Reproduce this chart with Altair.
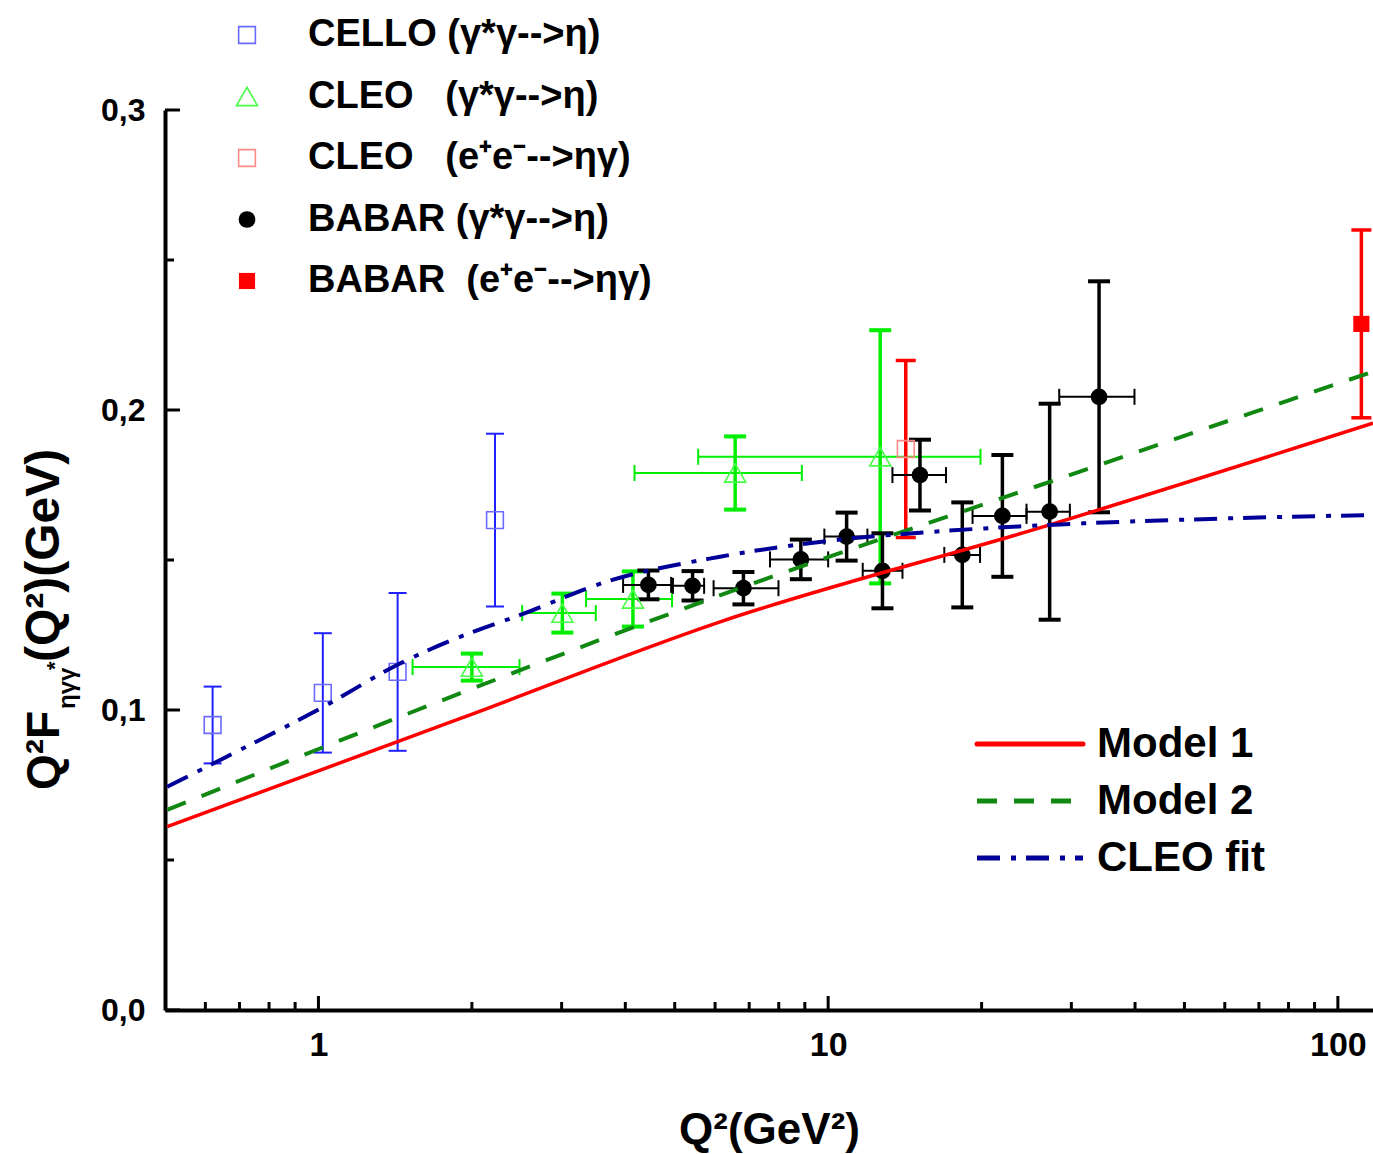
import altair as alt
import pandas as pd

# ---------------- data ----------------
# CELLO (gamma* gamma -> eta)
cello_q = [0.62, 1.02, 1.43, 2.22]
cello_f = [0.0950, 0.1057, 0.1127, 0.1633]
cello_err = [0.0128, 0.0199, 0.0263, 0.0288]

# CLEO (gamma* gamma -> eta)
cleo_q = [2.00, 3.01, 4.14, 6.57, 12.65]
cleo_f = [0.1143, 0.1323, 0.1370, 0.1790, 0.1844]
cleo_err = [0.0045, 0.0065, 0.0092, 0.0122, 0.0422]
cleo_qlo = [1.53, 2.51, 3.35, 4.17, 5.56]
cleo_qhi = [2.48, 3.50, 4.94, 8.88, 19.9]

# CLEO (e+e- -> eta gamma)
cleoee_q = [14.2]
cleoee_f = [0.1870]
cleoee_err = [0.0295]

# BABAR (gamma* gamma -> eta)
babar_q = [4.44, 5.42, 6.82, 8.84, 10.87, 12.78, 15.14, 18.33, 21.97, 27.2, 34.0]
babar_f = [0.1417, 0.1414, 0.1406, 0.1502, 0.1578, 0.1464, 0.1783, 0.1517, 0.1647, 0.1661, 0.2044]
babar_err = [0.0048, 0.0049, 0.0054, 0.0066, 0.0080, 0.0125, 0.0118, 0.0175, 0.0203, 0.0360, 0.0385]
babar_qlo = [3.96, 4.96, 5.96, 7.69, 9.83, 11.69, 13.37, 16.9, 19.2, 24.5, 28.4]
babar_qhi = [4.92, 5.71, 7.99, 10.0, 11.94, 13.99, 17.03, 19.86, 24.5, 29.8, 39.9]

# BABAR (e+e- -> eta gamma)
babaree_q = [111.2]
babaree_f = [0.2287]
babaree_err = [0.0313]

# Curves
m1_q = [0.505, 1.90, 6.14, 27.2, 117.2]
m1_f = [0.0611, 0.0972, 0.1294, 0.1617, 0.1956]
m2_q = [0.505, 1.90, 6.71, 26.1, 117.2]
m2_f = [0.0667, 0.1056, 0.1406, 0.1750, 0.2128]
cf_q = [0.505, 0.662, 1.024, 1.449, 1.897, 2.489, 3.681, 6.138, 10.4, 15.14, 27.23, 56.2, 117.2]
cf_f = [0.0744, 0.0845, 0.1011, 0.1156, 0.1244, 0.1317, 0.1428, 0.1511, 0.1567, 0.1591, 0.1617, 0.1637, 0.1650]

x_major = [1, 10, 100]
x_minor = [0.6, 0.7, 0.8, 0.9, 2, 3, 4, 5, 6, 7, 8, 9, 20, 30, 40, 50, 60, 70, 80, 90]
y_major = [0.0, 0.1, 0.2, 0.3]
y_minor = [0.05, 0.15, 0.25]

legend_top = [
    ("CELLO (γ*γ-->η)", "cello"),
    ("CLEO\u00a0\u00a0\u00a0(γ*γ-->η)", "cleo"),
    ("CLEO\u00a0\u00a0\u00a0(e⁺e⁻-->ηγ)", "cleoee"),
    ("BABAR (γ*γ-->η)", "babar"),
    ("BABAR\u00a0\u00a0(e⁺e⁻-->ηγ)", "babaree"),
]
legend_lines = ["Model 1", "Model 2", "CLEO fit"]

# ---------------- chart ----------------
W, H = 1208, 900
FONT = "Liberation Sans, Arial, sans-serif"
xs = alt.Scale(type="log", domain=[0.5, 117.2], nice=False)
ys = alt.Scale(domain=[0, 0.3], nice=False, zero=False)

XAXIS = alt.Axis(values=x_major, format="d", ticks=False, tickSize=0, grid=False,
                 domainWidth=4, domainColor="black", labelFont=FONT, labelFontSize=34,
                 labelFontWeight="bold", labelColor="black", labelPadding=18,
                 labelFlush=False, title="Q²(GeV²)", titleFont=FONT, titleFontSize=44,
                 titleFontWeight="bold", titleColor="black", titleY=133, titleBaseline="alphabetic")
YAXIS = alt.Axis(values=y_major, labelExpr="replace(format(datum.value, '.1f'), '.', ',')",
                 ticks=False, tickSize=0, grid=False, domainWidth=4, domainColor="black",
                 labelFont=FONT, labelFontSize=32, labelFontWeight="bold", labelColor="black",
                 labelPadding=20, labelFlush=False, title=None)


def frame(q, f, err=None, qlo=None, qhi=None):
    d = pd.DataFrame({"q": q, "f": f})
    if err is not None:
        d["lo"] = [a - b for a, b in zip(f, err)]
        d["hi"] = [a + b for a, b in zip(f, err)]
    if qlo is not None:
        d["qlo"] = qlo
        d["qhi"] = qhi
    return d


def X(field="q"):
    return alt.X(f"{field}:Q", scale=xs, axis=XAXIS, title="Q²(GeV²)")


def Y(field="f"):
    return alt.Y(f"{field}:Q", scale=ys, axis=YAXIS, title=None)


def vbars(d, color, width, cap, capw):
    base = alt.Chart(d)
    return [
        base.mark_rule(color=color, strokeWidth=width).encode(x=X(), y=Y("lo"), y2="hi:Q"),
        base.mark_tick(color=color, orient="horizontal", size=cap, thickness=capw, opacity=1).encode(x=X(), y=Y("lo")),
        base.mark_tick(color=color, orient="horizontal", size=cap, thickness=capw, opacity=1).encode(x=X(), y=Y("hi")),
    ]


def hbars(d, color, width, cap, capw):
    base = alt.Chart(d)
    return [
        base.mark_rule(color=color, strokeWidth=width).encode(x=X("qlo"), x2="qhi:Q", y=Y()),
        base.mark_tick(color=color, orient="vertical", size=cap, thickness=capw, opacity=1).encode(x=X("qlo"), y=Y()),
        base.mark_tick(color=color, orient="vertical", size=cap, thickness=capw, opacity=1).encode(x=X("qhi"), y=Y()),
    ]


cello = frame(cello_q, cello_f, cello_err)
cleo = frame(cleo_q, cleo_f, cleo_err, cleo_qlo, cleo_qhi)
cleoee = frame(cleoee_q, cleoee_f, cleoee_err)
babar = frame(babar_q, babar_f, babar_err, babar_qlo, babar_qhi)
babaree = frame(babaree_q, babaree_f, babaree_err)

BLUE_BAR, BLUE_SYM = "#1f1fff", "#6b6bff"
GREEN_BAR, GREEN_SYM = "#00ee00", "#44ff44"
RED = "#ff0000"
RED_SYM = "#ff8a8a"

sym = {
    "cello": dict(shape="square", filled=False, stroke=BLUE_SYM, size=280, strokeWidth=1.6),
    "cleo": dict(shape="triangle-up", filled=False, stroke=GREEN_SYM, size=440, strokeWidth=1.6),
    "cleoee": dict(shape="square", filled=False, stroke=RED_SYM, size=280, strokeWidth=1.6),
    "babar": dict(shape="circle", filled=True, fill="black", size=280, strokeWidth=0),
    "babaree": dict(shape="square", filled=True, fill=RED, size=260, strokeWidth=0),
}


def symbol_chart(data, key, enc):
    return alt.Chart(data).mark_point(opacity=1, **sym[key]).encode(**enc)


layers = []

# axis carrier layer (invisible)
axis_df = pd.DataFrame({"q": [0.5, 117.2], "f": [0.0, 0.3]})
layers.append(alt.Chart(axis_df).mark_point(opacity=0).encode(x=X(), y=Y()))

# custom inward ticks
layers.append(alt.Chart(pd.DataFrame({"q": x_major})).mark_rule(color="black", strokeWidth=3).encode(
    x=X(), y=alt.value(H), y2=alt.value(H - 14)))
layers.append(alt.Chart(pd.DataFrame({"q": x_minor})).mark_rule(color="black", strokeWidth=3).encode(
    x=X(), y=alt.value(H), y2=alt.value(H - 8)))
layers.append(alt.Chart(pd.DataFrame({"f": y_major})).mark_rule(color="black", strokeWidth=3).encode(
    y=Y(), x=alt.value(0), x2=alt.value(15)))
layers.append(alt.Chart(pd.DataFrame({"f": y_minor})).mark_rule(color="black", strokeWidth=3).encode(
    y=Y(), x=alt.value(0), x2=alt.value(9)))

# error bars
layers += vbars(cello, BLUE_BAR, 2, 18, 2)
layers += hbars(cleo, GREEN_BAR, 2, 16, 2)
layers += vbars(cleo, GREEN_BAR, 3.5, 22, 4)
layers += vbars(cleoee, RED, 3.5, 20, 3.5)
layers += hbars(babar, "black", 2, 16, 2)
layers += vbars(babar, "black", 3.5, 22, 4)
layers += vbars(babaree, RED, 3.5, 20, 3.5)

# symbols
for key, d in [("cello", cello), ("cleo", cleo), ("cleoee", cleoee), ("babar", babar), ("babaree", babaree)]:
    layers.append(symbol_chart(d, key, dict(x=X(), y=Y())))

# curves
m1 = pd.DataFrame({"q": m1_q, "f": m1_f})
m2 = pd.DataFrame({"q": m2_q, "f": m2_f})
cf = pd.DataFrame({"q": cf_q, "f": cf_f})
line_styles = [
    dict(color=RED, strokeWidth=3.5),
    dict(color="#118811", strokeWidth=4, strokeDash=[20, 17]),
    dict(color="#000099", strokeWidth=4, strokeDash=[23, 11, 5, 10]),
]
for d, st in zip([m1, m2, cf], line_styles):
    layers.append(alt.Chart(d).mark_line(interpolate="monotone", **st).encode(x=X(), y=Y()))

# top-left legend
one = pd.DataFrame({"a": [0]})
for i, (label, key) in enumerate(legend_top):
    yy = -75 + i * 61.5
    layers.append(symbol_chart(one, key, dict(x=alt.value(82), y=alt.value(yy))))
    layers.append(alt.Chart(one).mark_text(text=label, align="left", baseline="middle", font=FONT,
                                           fontSize=38, fontWeight="bold", color="black").encode(
        x=alt.value(143), y=alt.value(yy)))

# model legend
leg_styles = [
    dict(color=RED, strokeWidth=5, strokeCap="round"),
    dict(color="#118811", strokeWidth=5, strokeDash=[20, 17]),
    dict(color="#000099", strokeWidth=5, strokeDash=[23, 11, 5, 10]),
]
for i, (label, st) in enumerate(zip(legend_lines, leg_styles)):
    yy = 634 + i * 57
    layers.append(alt.Chart(one).mark_rule(**st).encode(x=alt.value(812), x2=alt.value(918), y=alt.value(yy)))
    layers.append(alt.Chart(one).mark_text(text=label, align="left", baseline="middle", font=FONT,
                                           fontSize=42, fontWeight="bold", color="black").encode(
        x=alt.value(932), y=alt.value(yy)))

# y-axis title (rotated, with subscript)
ytitle = [
    ("Q²F", -120, 680, 46),
    ("ηγγ", -97, 599, 24),
    ("*", -110, 560, 22),
    ("(Q²)(GeV)", -120, 552, 48),
]
for txt, xx, yy, fs in ytitle:
    layers.append(alt.Chart(one).mark_text(text=txt, align="left", baseline="middle", angle=270, font=FONT,
                                           fontSize=fs, fontWeight="bold", color="black").encode(
        x=alt.value(xx), y=alt.value(yy)))

chart = alt.layer(*layers).properties(
    width=W, height=H,
    padding={"left": 165, "top": 110, "right": 0, "bottom": 144},
    autosize=alt.AutoSizeParams(type="none"),
    background="white",
).configure_view(stroke=None)

chart.save("out.html", embed_options={"renderer": "svg", "actions": False})
